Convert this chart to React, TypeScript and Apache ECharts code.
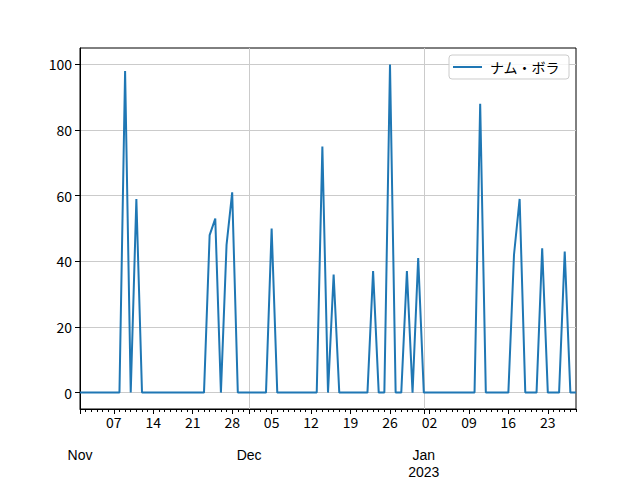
import React, { useEffect, useRef } from "react";
import * as echarts from "echarts";

const seriesName = "ナム・ボラ";
const startDate = { y: 2022, m: 10, d: 1 }; // Nov 1 2022 (month 0-based)
const dayCount = 89;
const values = [
  0, 0, 0, 0, 0, 0, 0, 0, 98, 0, 59,
  0, 0, 0, 0, 0, 0, 0, 0, 0, 0, 0, 0,
  48, 53, 0, 45, 61,
  0, 0, 0, 0, 0, 0,
  50, 0, 0, 0, 0, 0, 0, 0, 0,
  75, 0, 36,
  0, 0, 0, 0, 0, 0,
  37, 0, 0, 100, 0, 0, 37, 0, 41,
  0, 0, 0, 0, 0, 0, 0, 0, 0, 0,
  88, 0, 0, 0, 0, 0,
  42, 59, 0, 0, 0, 44, 0, 0, 0, 43, 0, 0,
];
const yTicks = [0, 20, 40, 60, 80, 100];
const monthLabels: Record<string, string> = {
  "2022-11-01": "Nov",
  "2022-12-01": "Dec",
  "2023-01-01": "Jan",
};
const yearLabels: Record<string, string> = {
  "2023-01-01": "2023",
};

function pad(n: number) {
  return n < 10 ? "0" + n : "" + n;
}
const dates: string[] = [];
for (let i = 0; i < dayCount; i++) {
  const dt = new Date(Date.UTC(startDate.y, startDate.m, startDate.d + i));
  dates.push(`${dt.getUTCFullYear()}-${pad(dt.getUTCMonth() + 1)}-${pad(dt.getUTCDate())}`);
}
const isMonday = (v: string) => new Date(v + "T00:00:00Z").getUTCDay() === 1;
const isMonthStart = (v: string) => v.endsWith("-01");

const FONT = "'Noto Sans CJK JP', 'DejaVu Sans', sans-serif";
const MONTH_FONT = "'Liberation Sans', 'DejaVu Sans', sans-serif";
const GRID_COLOR = "#cbcbcb";

export default function App() {
  const ref = useRef<HTMLDivElement>(null);
  useEffect(() => {
    if (!ref.current) return;
    const chart = echarts.init(ref.current, undefined, { renderer: "svg" });
    const baseX = {
      type: "category" as const,
      data: dates,
      boundaryGap: false,
      position: "bottom" as const,
      gridIndex: 0,
    };
    chart.setOption({
      animation: false,
      backgroundColor: "#fff",
      textStyle: { fontFamily: FONT },
      grid: {
        left: 80,
        right: 64,
        top: 48,
        bottom: 71,
        show: true,
        borderColor: "#000",
        borderWidth: 1,
        backgroundColor: "#fff",
      },
      legend: {
        right: 71,
        top: 55,
        padding: [5, 9, 5, 4],
        borderColor: "#cccccc",
        borderWidth: 1,
        borderRadius: 3,
        backgroundColor: "rgba(255,255,255,0.8)",
        itemWidth: 29,
        itemHeight: 2,
        itemGap: 8,
        textStyle: { fontFamily: FONT, fontSize: 14, color: "#000", padding: [0, 0, 0, 3] },
        data: [{ name: seriesName, icon: "rect" }],
      },
      xAxis: [
        {
          ...baseX,
          axisLine: { onZero: false, lineStyle: { color: "#000", width: 1 } },
          axisTick: {
            show: true,
            length: 5,
            lineStyle: { color: "#000" },
            interval: (_i: number, v: string) => isMonday(v),
          },
          axisLabel: {
            interval: (_i: number, v: string) => isMonday(v),
            formatter: (v: string) => v.slice(8, 10),
            color: "#000",
            fontSize: 14,
            fontFamily: FONT,
            margin: 6,
          },
          splitLine: { show: false },
        },
        {
          ...baseX,
          axisLine: { show: false, onZero: false },
          axisTick: { show: true, length: 3, interval: 0, lineStyle: { color: "#000" } },
          axisLabel: { show: false },
          splitLine: { show: false },
        },
        {
          ...baseX,
          axisLine: { show: false, onZero: false },
          axisTick: {
            show: true,
            length: 5,
            lineStyle: { color: "#000" },
            interval: (_i: number, v: string) => isMonthStart(v),
          },
          axisLabel: {
            interval: (_i: number, v: string) => isMonthStart(v),
            formatter: (v: string) => monthLabels[v] || "",
            color: "#000",
            fontSize: 14,
            lineHeight: 14,
            fontFamily: MONTH_FONT,
            margin: 39,
          },
          splitLine: {
            show: true,
            interval: (_i: number, v: string) => isMonthStart(v),
            lineStyle: { color: GRID_COLOR, width: 1 },
          },
        },
        {
          ...baseX,
          axisLine: { show: false, onZero: false },
          axisTick: { show: false },
          axisLabel: {
            interval: (_i: number, v: string) => v in yearLabels,
            formatter: (v: string) => yearLabels[v] || "",
            color: "#000",
            fontSize: 14,
            lineHeight: 14,
            fontFamily: MONTH_FONT,
            margin: 56,
          },
          splitLine: { show: false },
        },
      ],
      yAxis: {
        type: "value",
        min: -5,
        max: 105,
        axisLine: { show: true, onZero: false, lineStyle: { color: "#000" } },
        axisTick: {
          show: true,
          length: 5,
          lineStyle: { color: "#000" },
          customValues: yTicks,
        },
        axisLabel: {
          customValues: yTicks,
          color: "#000",
          fontSize: 14,
          fontFamily: FONT,
          margin: 8,
        },
        splitLine: { show: true, lineStyle: { color: GRID_COLOR, width: 1 } },
      },
      series: [
        {
          name: seriesName,
          type: "line",
          xAxisIndex: 0,
          data: values,
          symbol: "none",
          showSymbol: false,
          color: "#1f77b4",
          lineStyle: { color: "#1f77b4", width: 2 },
        },
      ],
    });
    return () => chart.dispose();
  }, []);
  return <div ref={ref} style={{ width: 640, height: 480, position: "absolute", left: 0, top: 0 }} />;
}
